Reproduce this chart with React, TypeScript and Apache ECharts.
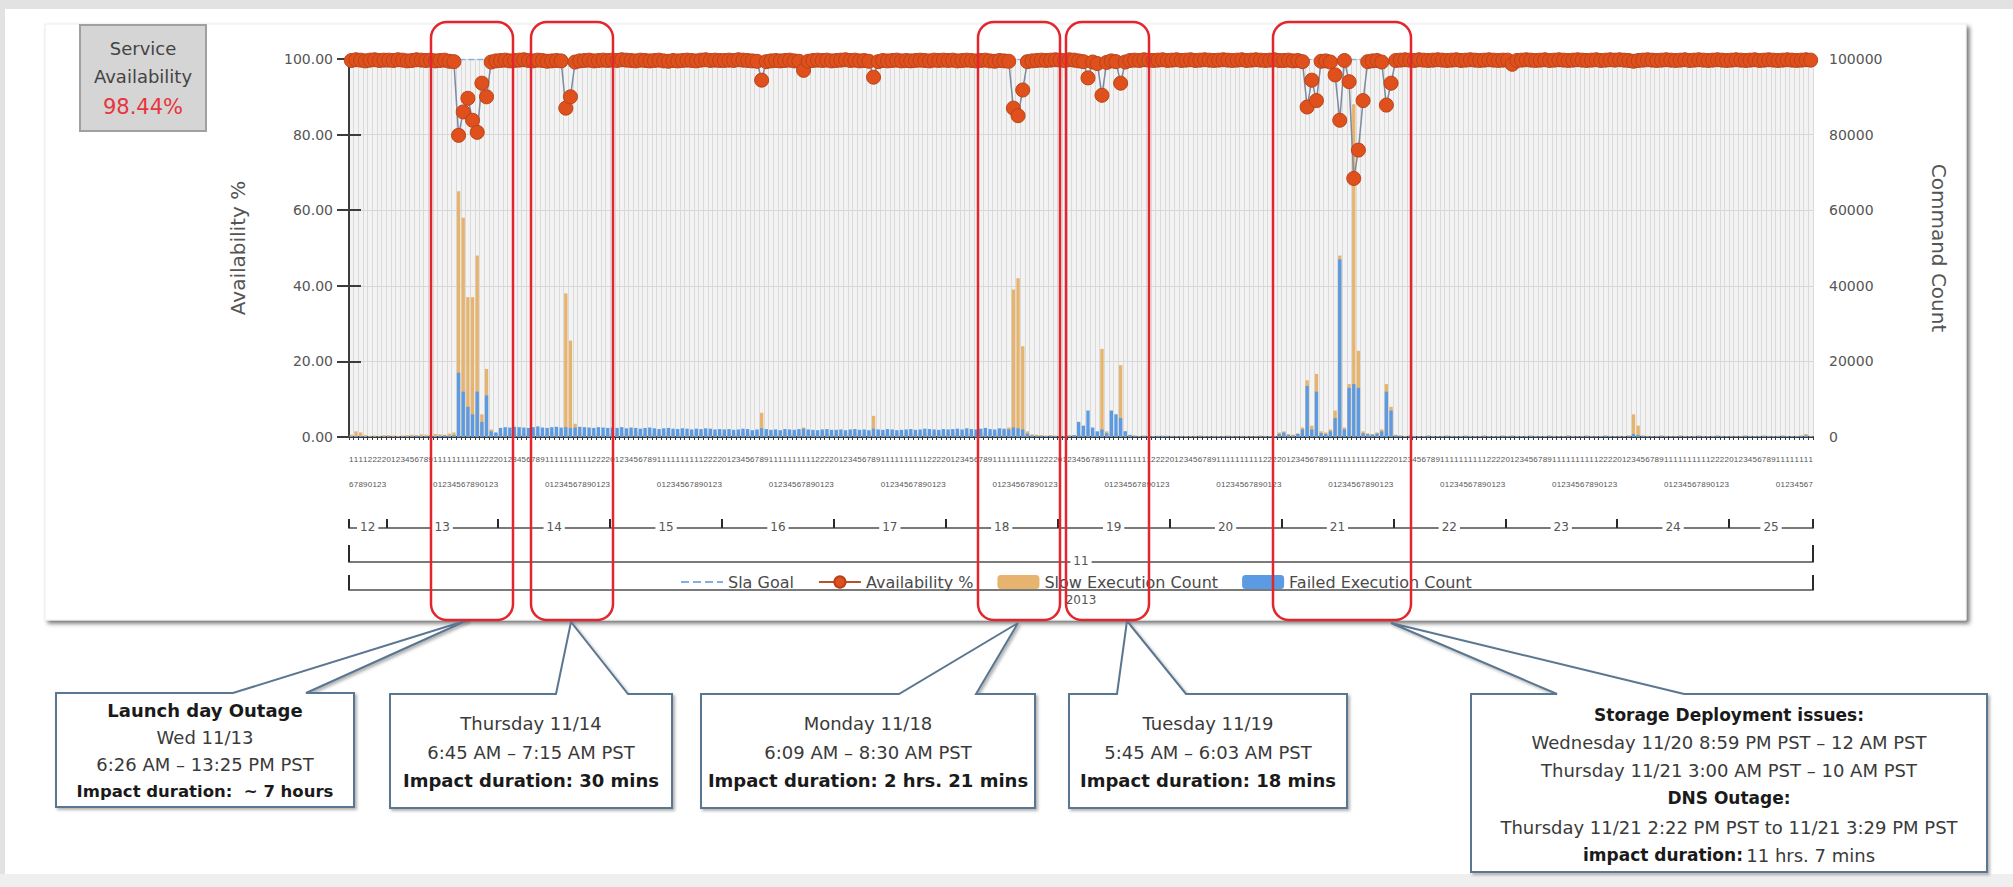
import React, { useEffect, useRef } from "react";
import * as echarts from "echarts";

// ---------- DATA ----------
// hourly buckets (UTC), 11/12 16:00 .. 11/25 17:00
const days = [12, 13, 14, 15, 16, 17, 18, 19, 20, 21, 22, 23, 24, 25];
const firstDayStartHour = 16;
const lastDayEndHour = 17;
const monthLabel = "11";
const yearLabel = "2013";
const SLA_GOAL = 99.9;

const av12 = [99.6, 99.8, 99.7, 99.5, 99.7, 99.8, 99.6, 99.7];
const av13 = [99.7, 99.6, 99.8, 99.7, 99.5, 99.6, 99.8, 99.7, 99.6, 99.7, 99.5, 99.6, 99.7, 99.4, 99.3, 79.8, 86.0, 89.6, 83.8, 80.6, 93.6, 90.0, 99.2, 99.5];
const av14 = [99.6, 99.7, 99.5, 99.6, 99.7, 99.8, 99.6, 99.5, 99.7, 99.6, 99.4, 99.5, 99.6, 99.5, 87.0, 90.0, 99.2, 99.5, 99.6, 99.7, 99.5, 99.6, 99.7, 99.6];
const av15 = [99.7, 99.6, 99.8, 99.7, 99.6, 99.5, 99.7, 99.6, 99.5, 99.6, 99.7, 99.5, 99.4, 99.6, 99.5, 99.6, 99.7, 99.6, 99.5, 99.7, 99.8, 99.6, 99.7, 99.6];
const av16 = [99.6, 99.7, 99.6, 99.8, 99.7, 99.6, 99.5, 99.4, 94.4, 99.3, 99.5, 99.6, 99.5, 99.6, 99.7, 99.5, 99.4, 97.0, 99.4, 99.6, 99.7, 99.6, 99.7, 99.5];
const av17 = [99.6, 99.7, 99.8, 99.6, 99.7, 99.5, 99.6, 99.4, 95.2, 99.3, 99.6, 99.5, 99.6, 99.7, 99.5, 99.6, 99.5, 99.6, 99.7, 99.6, 99.5, 99.7, 99.6, 99.7];
const av18 = [99.6, 99.7, 99.5, 99.6, 99.7, 99.6, 99.5, 99.6, 99.7, 99.5, 99.4, 99.6, 99.5, 99.4, 87.0, 85.0, 91.8, 99.3, 99.5, 99.6, 99.7, 99.6, 99.7, 99.8];
const av19 = [99.7, 99.6, 99.8, 99.7, 99.5, 99.3, 95.0, 99.2, 98.8, 90.4, 99.1, 99.5, 99.3, 93.6, 99.2, 99.6, 99.7, 99.6, 99.8, 99.7, 99.6, 99.7, 99.8, 99.6];
const av20 = [99.7, 99.8, 99.6, 99.7, 99.8, 99.6, 99.7, 99.8, 99.7, 99.6, 99.7, 99.8, 99.7, 99.6, 99.7, 99.8, 99.6, 99.7, 99.8, 99.7, 99.6, 99.7, 99.8, 99.6];
const av21 = [99.6, 99.7, 99.5, 99.6, 99.3, 87.3, 94.4, 89.0, 99.4, 99.5, 99.2, 95.8, 83.8, 99.6, 94.0, 68.4, 75.9, 89.0, 99.3, 99.5, 99.6, 99.2, 87.8, 93.6];
const av22 = [99.6, 99.7, 99.8, 99.7, 99.6, 99.8, 99.7, 99.6, 99.7, 99.8, 99.7, 99.6, 99.7, 99.8, 99.6, 99.7, 99.8, 99.7, 99.6, 99.7, 99.8, 99.7, 99.6, 99.7];
const av23 = [99.7, 98.6, 99.6, 99.7, 99.8, 99.7, 99.6, 99.7, 99.8, 99.6, 99.7, 99.8, 99.7, 99.6, 99.7, 99.8, 99.7, 99.6, 99.7, 99.8, 99.6, 99.7, 99.8, 99.7];
const av24 = [99.8, 99.7, 99.6, 99.4, 99.6, 99.7, 99.8, 99.7, 99.6, 99.7, 99.8, 99.7, 99.6, 99.7, 99.8, 99.6, 99.7, 99.8, 99.7, 99.6, 99.7, 99.8, 99.7, 99.6];
const av25 = [99.7, 99.8, 99.7, 99.6, 99.7, 99.8, 99.6, 99.7, 99.8, 99.7, 99.6, 99.7, 99.8, 99.7, 99.6, 99.7, 99.8, 99.7];

const slow12 = [600, 1500, 1200, 500, 300, 400, 300, 500];
const slow13 = [500, 400, 300, 400, 500, 600, 500, 700, 600, 500, 800, 700, 600, 900, 1200, 65000, 58000, 37000, 37000, 48000, 6000, 18000, 2000, 900];
const slow14 = [1000, 1200, 900, 800, 1100, 1000, 900, 1200, 1000, 900, 1100, 1300, 1200, 1500, 38000, 25500, 3500, 1200, 1000, 900, 1100, 1000, 800, 900];
const slow15 = [900, 1100, 1000, 1200, 1500, 1300, 1000, 900, 1100, 1200, 1000, 1300, 1400, 1200, 1000, 1100, 900, 1000, 1200, 1100, 1000, 900, 1100, 1000];
const slow16 = [1000, 1100, 900, 1000, 1200, 1100, 1000, 1300, 6400, 1500, 1100, 1000, 900, 1200, 1000, 1100, 1300, 2500, 1200, 1000, 900, 1100, 1000, 900];
const slow17 = [1000, 900, 1100, 1000, 1200, 1000, 900, 1300, 5600, 1400, 1000, 1100, 900, 1000, 1200, 1100, 1000, 900, 1100, 1000, 1200, 1100, 1000, 1300];
const slow18 = [1100, 1000, 1200, 1000, 900, 1100, 1000, 1200, 1300, 1100, 1000, 1400, 1600, 2500, 39000, 42000, 24000, 1500, 700, 600, 500, 400, 500, 400];
const slow19 = [400, 300, 500, 400, 800, 1200, 2000, 1500, 1200, 23300, 1500, 800, 1000, 19000, 1500, 600, 400, 300, 400, 300, 200, 300, 400, 300];
const slow20 = [300, 200, 300, 250, 200, 300, 400, 300, 200, 300, 250, 300, 400, 300, 200, 300, 250, 200, 300, 400, 300, 200, 300, 1200];
const slow21 = [1500, 800, 600, 1000, 2500, 15000, 3000, 16700, 1500, 1200, 2000, 7000, 48000, 2500, 14000, 88000, 22800, 1500, 1000, 800, 1200, 2000, 14000, 8000];
const slow22 = [600, 400, 300, 400, 300, 200, 300, 400, 300, 200, 300, 400, 300, 200, 300, 400, 300, 200, 300, 400, 300, 200, 300, 400];
const slow23 = [300, 400, 300, 200, 300, 400, 300, 200, 300, 400, 300, 200, 300, 400, 300, 200, 300, 400, 300, 200, 300, 400, 300, 200];
const slow24 = [300, 200, 400, 6000, 3000, 400, 300, 200, 300, 400, 300, 200, 300, 400, 300, 200, 300, 400, 300, 200, 300, 400, 300, 200];
const slow25 = [300, 200, 300, 400, 300, 200, 300, 400, 300, 200, 300, 400, 300, 200, 300, 400, 800, 300];

const fail12 = [200, 300, 250, 150, 150, 100, 200, 150];
const fail13 = [200, 150, 100, 200, 150, 200, 300, 200, 250, 300, 200, 300, 400, 300, 500, 17000, 12000, 8000, 6000, 12000, 4000, 11000, 1500, 1200];
const fail14 = [2400, 2600, 2500, 2700, 2600, 2500, 2400, 2600, 2800, 2500, 2400, 2600, 2700, 2500, 2600, 2400, 2500, 2700, 2600, 2500, 2400, 2600, 2500, 2400];
const fail15 = [2500, 2400, 2600, 2300, 2500, 2400, 2200, 2400, 2500, 2300, 2100, 2300, 2400, 2200, 2100, 2300, 2200, 2000, 2200, 2100, 2300, 2200, 2000, 2100];
const fail16 = [2000, 2100, 1900, 2000, 2200, 2100, 1800, 2000, 2300, 2100, 1900, 2000, 1800, 2100, 2000, 1900, 2100, 2200, 2000, 1900, 1800, 2000, 2100, 1900];
const fail17 = [1900, 2000, 1800, 2000, 2100, 1900, 2000, 1800, 2200, 2000, 1900, 2100, 2000, 1800, 1900, 2000, 2100, 1900, 2000, 2200, 2100, 2000, 1900, 2100];
const fail18 = [2000, 2100, 2200, 2000, 2300, 2100, 2000, 2200, 2400, 2100, 2000, 2300, 2200, 2000, 2500, 2300, 2000, 900, 400, 300, 300, 200, 300, 200];
const fail19 = [300, 200, 300, 500, 4000, 3000, 7000, 2500, 1500, 2000, 1000, 7000, 6000, 5000, 1500, 500, 300, 200, 300, 200, 200, 300, 200, 300];
const fail20 = [200, 150, 200, 150, 100, 200, 250, 200, 150, 200, 150, 200, 250, 200, 150, 200, 150, 100, 200, 250, 200, 150, 200, 800];
const fail21 = [1200, 500, 400, 800, 2000, 13500, 2000, 12000, 1000, 800, 1500, 5000, 47000, 2000, 13000, 14000, 13000, 1000, 700, 600, 900, 1500, 12000, 7000];
const fail22 = [400, 300, 200, 300, 200, 150, 200, 300, 200, 150, 200, 300, 200, 150, 200, 300, 200, 150, 200, 300, 200, 150, 200, 300];
const fail23 = [200, 300, 200, 150, 200, 300, 200, 150, 200, 300, 200, 150, 200, 300, 200, 150, 200, 300, 200, 150, 200, 300, 200, 150];
const fail24 = [200, 150, 300, 800, 500, 300, 200, 150, 200, 300, 200, 150, 200, 300, 200, 150, 200, 300, 200, 150, 200, 300, 200, 150];
const fail25 = [200, 150, 200, 300, 200, 150, 200, 300, 200, 150, 200, 300, 200, 150, 200, 300, 400, 200];

const availability = [...av12, ...av13, ...av14, ...av15, ...av16, ...av17, ...av18, ...av19, ...av20, ...av21, ...av22, ...av23, ...av24, ...av25];
const slowCount = [...slow12, ...slow13, ...slow14, ...slow15, ...slow16, ...slow17, ...slow18, ...slow19, ...slow20, ...slow21, ...slow22, ...slow23, ...slow24, ...slow25];
const failedCount = [...fail12, ...fail13, ...fail14, ...fail15, ...fail16, ...fail17, ...fail18, ...fail19, ...fail20, ...fail21, ...fail22, ...fail23, ...fail24, ...fail25];

// categories "day-hour"
const categories: string[] = [];
const dayStart: number[] = [];
const dayEnd: number[] = [];
days.forEach((d, k) => {
  const h0 = k === 0 ? firstDayStartHour : 0;
  const h1 = k === days.length - 1 ? lastDayEndHour : 23;
  dayStart.push(categories.length);
  for (let h = h0; h <= h1; h++) categories.push(`${d}-${h}`);
  dayEnd.push(categories.length);
});
const total = categories.length;
const dayBoundaries = [0, ...dayEnd];
const dayCenters = days.map((_, k) => (dayStart[k] + dayEnd[k]) / 2);

// ---------- STYLE ----------
const FONT = "'DejaVu Sans', sans-serif";
const CFONT = "'DejaVu Sans', sans-serif";
const AXIS_DARK = "#3c3c3c";
const LABEL = "#555555";
const BOX = "#5a7690";
const RED = "#e3262e";

const valueXAxis = (
  offset: number,
  tickVals: number[],
  tickLen: number,
  labelVals: number[],
  fmt: (v: number) => string,
  fontSize: number,
  onLine: boolean
) => ({
  type: "value",
  min: 0,
  max: total,
  position: "bottom",
  offset,
  axisLine: { show: true, onZero: false, lineStyle: { color: "#7a7a7a", width: 2 } },
  axisTick: { show: true, inside: true, length: tickLen, customValues: tickVals, lineStyle: { color: "#2a2a2a", width: 2 } },
  axisLabel: {
    show: true,
    customValues: labelVals,
    formatter: fmt,
    margin: onLine ? -Math.round(fontSize / 2) - 1 : 4,
    fontSize,
    color: LABEL,
    backgroundColor: onLine ? "#ffffff" : "transparent",
    padding: [0, 3],
  },
  splitLine: { show: false },
});

function callout(pts: number[][], z = 90) {
  return {
    type: "polygon",
    z,
    shape: { points: pts },
    style: { fill: "#ffffff", stroke: BOX, lineWidth: 2, shadowBlur: 3, shadowOffsetX: 2, shadowOffsetY: 2, shadowColor: "rgba(0,0,0,0.3)" },
  };
}
function ctext(x: number, y: number, text: string, bold = false, size = 18) {
  return {
    type: "text",
    z: 95,
    x,
    y,
    style: {
      text,
      align: "center",
      verticalAlign: "middle",
      fontFamily: CFONT,
      fontSize: size,
      fontWeight: bold ? "bold" : "normal",
      fill: bold ? "#1a1a1a" : "#3a3a3a",
    },
  };
}
function redBox(x1: number, x2: number) {
  return {
    type: "rect",
    z: 100,
    shape: { x: x1, y: 22, width: x2 - x1, height: 598, r: 16 },
    style: { fill: "none", stroke: RED, lineWidth: 2.5 },
  };
}

const option: any = {
  animation: false,
  backgroundColor: "#ffffff",
  textStyle: { fontFamily: FONT },
  grid: { left: 349, right: 200, top: 59, bottom: 450, show: true, backgroundColor: "#f3f3f3", borderWidth: 0 },
  legend: {
    left: 680,
    top: 574,
    padding: 0,
    itemWidth: 42,
    itemHeight: 14,
    itemGap: 24,
    textStyle: { fontSize: 16, color: "#4a4a4a", fontFamily: FONT },
    data: [
      { name: "Sla Goal", itemStyle: { opacity: 0 } },
      { name: "Availability %", lineStyle: { color: "#b5532c", width: 2 } },
      "Slow Execution Count",
      "Failed Execution Count",
    ],
  },
  xAxis: [
    {
      type: "category",
      data: categories,
      boundaryGap: true,
      position: "bottom",
      axisLine: { onZero: false, lineStyle: { color: AXIS_DARK, width: 2 } },
      axisTick: { show: true, interval: 0, length: 3, lineStyle: { color: AXIS_DARK } },
      axisLabel: {
        interval: 0,
        fontSize: 8,
        lineHeight: 25,
        margin: 10,
        color: LABEL,
        fontFamily: "'Liberation Sans', sans-serif",
        formatter: (v: string) => {
          const h = Number(v.split("-")[1]);
          return h >= 10 ? `${Math.floor(h / 10)}\n${h % 10}` : String(h);
        },
      },
      splitLine: { show: true, interval: 0, lineStyle: { color: "#dadada", width: 1 } },
    },
    valueXAxis(91, dayBoundaries, 9, dayCenters, (v: number) => String(days[dayCenters.indexOf(v)]), 12, true),
    valueXAxis(125, [0, total], 17, [total / 2], () => monthLabel, 12, true),
    valueXAxis(153, [0, total], 15, [total / 2], () => yearLabel, 12, false),
  ],
  yAxis: [
    {
      type: "value",
      min: 0,
      max: 100,
      interval: 20,
      name: "Availability %",
      nameLocation: "middle",
      nameRotate: 90,
      nameGap: 101,
      nameTextStyle: { fontSize: 20, color: LABEL },
      axisLine: { show: true, lineStyle: { color: AXIS_DARK, width: 2 } },
      axisTick: { show: true, length: 12, lineStyle: { color: AXIS_DARK, width: 2 } },
      axisLabel: { formatter: (v: number) => v.toFixed(2), fontSize: 14, color: LABEL, margin: 16 },
      splitLine: { show: true, lineStyle: { color: "#d7d7d7", width: 1 } },
    },
    {
      type: "value",
      min: 0,
      max: 100000,
      interval: 20000,
      position: "right",
      name: "Command Count",
      nameLocation: "middle",
      nameRotate: -90,
      nameGap: 116,
      nameTextStyle: { fontSize: 20, color: LABEL },
      axisLine: { show: true, lineStyle: { color: AXIS_DARK, width: 2 } },
      axisTick: { show: true, length: 12, lineStyle: { color: AXIS_DARK, width: 2 } },
      axisLabel: { formatter: (v: number) => String(v), fontSize: 14, color: LABEL, margin: 16 },
      splitLine: { show: false },
    },
  ],
  series: [
    {
      name: "Slow Execution Count",
      type: "bar",
      yAxisIndex: 1,
      data: slowCount,
      barWidth: "72%",
      barGap: "-100%",
      itemStyle: { color: "#e6b46e" },
      z: 2,
    },
    {
      name: "Failed Execution Count",
      type: "bar",
      yAxisIndex: 1,
      data: failedCount,
      barWidth: "72%",
      barGap: "-100%",
      itemStyle: { color: "#5b9be4" },
      z: 3,
    },
    {
      name: "Sla Goal",
      type: "line",
      yAxisIndex: 0,
      data: categories.map(() => SLA_GOAL),
      symbol: "none",
      lineStyle: { color: "#86aee0", width: 1.5, type: "dashed" },
      itemStyle: { color: "#86aee0" },
      z: 4,
    },
    {
      name: "Availability %",
      type: "line",
      yAxisIndex: 0,
      data: availability,
      symbol: "circle",
      symbolSize: 14,
      showAllSymbol: true,
      lineStyle: { color: "#7d8aa0", width: 1.5 },
      itemStyle: { color: "#e0501c", borderColor: "#b8431a", borderWidth: 1 },
      z: 5,
    },
  ],
  graphic: [
    // page / panel
    { type: "rect", z: -100, shape: { x: 0, y: 0, width: 2013, height: 9 }, style: { fill: "#e2e2e2" } },
    { type: "rect", z: -100, shape: { x: 0, y: 0, width: 5, height: 887 }, style: { fill: "#e2e2e2" } },
    { type: "rect", z: -100, shape: { x: 0, y: 874, width: 2013, height: 13 }, style: { fill: "#efefef" } },
    {
      type: "rect",
      z: -90,
      shape: { x: 45, y: 24, width: 1921, height: 596 },
      style: { fill: "#ffffff", stroke: "#ececec", lineWidth: 1, shadowBlur: 4, shadowOffsetX: 3, shadowOffsetY: 3, shadowColor: "rgba(0,0,0,0.55)" },
    },
    // service availability box
    { type: "rect", z: 80, shape: { x: 80, y: 25, width: 126, height: 106 }, style: { fill: "#d5d5d5", stroke: "#a0a0a0", lineWidth: 2 } },
    { type: "text", z: 81, x: 143, y: 48, style: { text: "Service", align: "center", verticalAlign: "middle", fontFamily: FONT, fontSize: 18, fill: "#444" } },
    { type: "text", z: 81, x: 143, y: 76, style: { text: "Availability", align: "center", verticalAlign: "middle", fontFamily: FONT, fontSize: 18, fill: "#444" } },
    { type: "text", z: 81, x: 143, y: 107, style: { text: "98.44%", align: "center", verticalAlign: "middle", fontFamily: FONT, fontSize: 21, fill: "#e8343c" } },
    // red highlight boxes
    redBox(431, 513),
    redBox(531, 613),
    redBox(978, 1060),
    redBox(1066, 1149),
    redBox(1273, 1411),
    // callouts
    callout([[56, 693], [233, 693], [468, 620], [306, 693], [354, 693], [354, 807], [56, 807]]),
    ctext(205, 710, "Launch day Outage", true),
    ctext(205, 737, "Wed 11/13"),
    ctext(205, 764, "6:26 AM – 13:25 PM PST"),
    ctext(205, 791, "Impact duration:  ~ 7 hours", true, 16.5),

    callout([[390, 694], [556, 694], [571, 622], [628, 694], [672, 694], [672, 808], [390, 808]]),
    ctext(531, 723, "Thursday 11/14"),
    ctext(531, 752, "6:45 AM – 7:15 AM PST"),
    ctext(531, 780, "Impact duration: 30 mins", true),

    callout([[701, 694], [899, 694], [1018, 623], [976, 694], [1035, 694], [1035, 808], [701, 808]]),
    ctext(868, 723, "Monday 11/18"),
    ctext(868, 752, "6:09 AM – 8:30 AM PST"),
    ctext(868, 780, "Impact duration: 2 hrs. 21 mins", true),

    callout([[1069, 694], [1117, 694], [1127, 621], [1186, 694], [1347, 694], [1347, 808], [1069, 808]]),
    ctext(1208, 723, "Tuesday 11/19"),
    ctext(1208, 752, "5:45 AM – 6:03 AM PST"),
    ctext(1208, 780, "Impact duration: 18 mins", true),

    callout([[1471, 694], [1557, 694], [1391, 623], [1684, 694], [1987, 694], [1987, 872], [1471, 872]]),
    ctext(1729, 715, "Storage Deployment issues:", true, 17),
    ctext(1729, 742, "Wednesday 11/20 8:59 PM PST – 12 AM PST"),
    ctext(1729, 770, "Thursday 11/21 3:00 AM PST – 10 AM PST"),
    ctext(1729, 798, "DNS Outage:", true, 17),
    ctext(1729, 827, "Thursday 11/21 2:22 PM PST to 11/21 3:29 PM PST"),
    {
      type: "text",
      z: 95,
      x: 1729,
      y: 855,
      style: {
        text: "{b|impact duration:} {n|11 hrs. 7 mins}",
        align: "center",
        verticalAlign: "middle",
        rich: {
          b: { fontFamily: CFONT, fontSize: 17, fontWeight: "bold", fill: "#1a1a1a", color: "#1a1a1a" },
          n: { fontFamily: CFONT, fontSize: 18, fill: "#3a3a3a", color: "#3a3a3a" },
        },
      },
    },
  ],
};

export default function App() {
  const ref = useRef<HTMLDivElement>(null);
  useEffect(() => {
    document.body.style.margin = "0";
    const chart = echarts.init(ref.current as HTMLDivElement, null, { renderer: "svg" });
    chart.setOption(option);
    return () => chart.dispose();
  }, []);
  return <div ref={ref} style={{ width: 2013, height: 887 }} />;
}
